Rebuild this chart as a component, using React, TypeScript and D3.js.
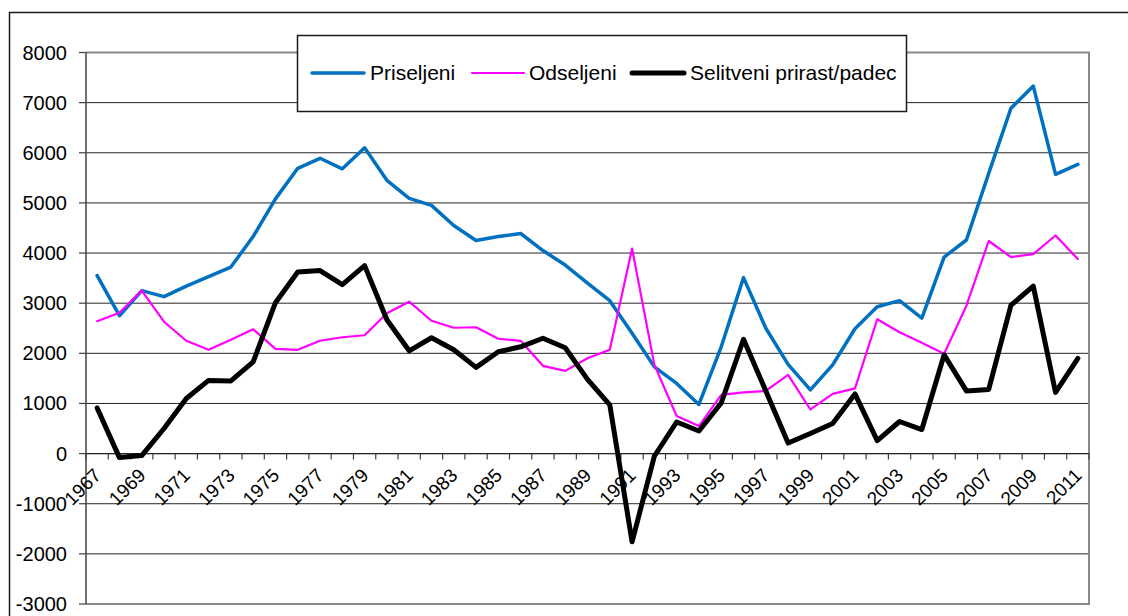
import * as d3 from "d3";

const years = d3.range(1967, 2012).map(String);

const priseljeni = [
  3550, 2750, 3250, 3130, 3340, 3530, 3720, 4330, 5080, 5690,
  5890, 5680, 6100, 5450, 5090, 4950, 4550, 4250, 4330, 4390,
  4050, 3760, 3400, 3050, 2400, 1730, 1400, 980, 2130, 3510,
  2500, 1780, 1270, 1770, 2490, 2930, 3050, 2700, 3920, 4260,
  5590, 6890, 7330, 5570, 5770,
];

const odseljeni = [
  2640, 2810, 3250, 2630, 2250, 2070, 2270, 2480, 2090, 2070,
  2250, 2320, 2360, 2800, 3030, 2650, 2510, 2520, 2290, 2250,
  1750, 1650, 1900, 2070, 4090, 1770, 750, 550, 1170, 1220,
  1250, 1570, 880, 1190, 1300, 2680, 2420, 2210, 1990, 2950,
  4240, 3920, 3980, 4350, 3880,
];

const selitveni = [
  910, -80, -40, 500, 1100, 1460, 1450, 1830, 3010, 3620,
  3650, 3370, 3750, 2670, 2050, 2310, 2070, 1720, 2030, 2130,
  2300, 2110, 1480, 970, -1760, -50, 630, 450, 1010, 2280,
  1250, 210, 400, 600, 1190, 260, 640, 480, 1970, 1250,
  1280, 2960, 3340, 1220, 1900,
];

const yTicks = d3.range(-3000, 8001, 1000);

const series = [
  { name: "Priseljeni", values: priseljeni, color: "#0070C0", width: 3.5 },
  { name: "Odseljeni", values: odseljeni, color: "#FF00FF", width: 2.2 },
  { name: "Selitveni prirast/padec", values: selitveni, color: "#000000", width: 5 },
];

const W = 1128;
const H = 616;
const plot = { left: 86, right: 1089, top: 52.5, bottom: 604 };

export default function App() {
  const x = d3
    .scaleBand<string>()
    .domain(years)
    .range([plot.left, plot.right])
    .padding(0);
  const y = d3.scaleLinear().domain([-3000, 8000]).range([plot.bottom, plot.top]);
  const cx = (i: number) => (x(years[i]) as number) + x.bandwidth() / 2;
  const line = d3
    .line<number>()
    .x((d, i) => cx(i))
    .y((d) => y(d));
  const y0 = y(0);
  const font = "'Liberation Sans', Arial, sans-serif";

  // category boundaries for the tick marks on the zero line
  const bounds = years.map((yr) => x(yr) as number).concat([plot.right]);

  const legendItems = [
    { lx: 312, tx: 370 },
    { lx: 472, tx: 529 },
    { lx: 632, tx: 690 },
  ];

  return (
    <svg
      width={W}
      height={H}
      style={{ position: "fixed", left: 0, top: 0, background: "#fff" }}
      fontFamily={font}
    >
      {/* chart area border */}
      <rect x={9.5} y={12.5} width={W + 20} height={H + 20} fill="none" stroke="#1a1a1a" strokeWidth={1.5} />

      {/* gridlines */}
      {yTicks.map((t) => (
        <line key={t} x1={plot.left} x2={plot.right} y1={y(t)} y2={y(t)} stroke="#262626" strokeWidth={1} />
      ))}

      {/* plot area border */}
      <polyline
        points={`${plot.left},${plot.top} ${plot.right},${plot.top} ${plot.right},${plot.bottom} ${plot.left},${plot.bottom}`}
        fill="none"
        stroke="#8a8a8a"
        strokeWidth={2}
      />

      {/* y axis */}
      <line x1={plot.left} x2={plot.left} y1={plot.top} y2={plot.bottom} stroke="#404040" strokeWidth={1.5} />
      {yTicks.map((t) => (
        <g key={t}>
          <line x1={plot.left - 7} x2={plot.left} y1={y(t)} y2={y(t)} stroke="#404040" strokeWidth={1.2} />
          <text x={67} y={y(t)} dy="0.35em" textAnchor="end" fontSize={20} fill="#000">
            {t}
          </text>
        </g>
      ))}

      {/* x axis at zero */}
      <line x1={plot.left} x2={plot.right} y1={y0} y2={y0} stroke="#262626" strokeWidth={1.2} />
      {bounds.map((b, i) => (
        <line key={i} x1={b} x2={b} y1={y0} y2={y0 + 6} stroke="#404040" strokeWidth={1.2} />
      ))}
      {years.map((yr, i) =>
        i % 2 === 0 ? (
          <text
            key={yr}
            transform={`translate(${cx(i) + 5},${y0 + 23}) rotate(-45)`}
            textAnchor="end"
            fontSize={19}
            fill="#000"
          >
            {yr}
          </text>
        ) : null
      )}

      {/* series */}
      {series.map((s) => (
        <path
          key={s.name}
          d={line(s.values) as string}
          fill="none"
          stroke={s.color}
          strokeWidth={s.width}
          strokeLinejoin="round"
          strokeLinecap="round"
        />
      ))}

      {/* legend */}
      <rect x={297.5} y={35.5} width={609} height={76} fill="#fff" stroke="#1a1a1a" strokeWidth={1.5} />
      {series.map((s, i) => (
        <g key={s.name}>
          <line
            x1={legendItems[i].lx}
            x2={legendItems[i].lx + 52}
            y1={73}
            y2={73}
            stroke={s.color}
            strokeWidth={s.width}
            strokeLinecap="round"
          />
          <text x={legendItems[i].tx} y={73} dy="0.35em" fontSize={21} fill="#000">
            {s.name}
          </text>
        </g>
      ))}
    </svg>
  );
}
